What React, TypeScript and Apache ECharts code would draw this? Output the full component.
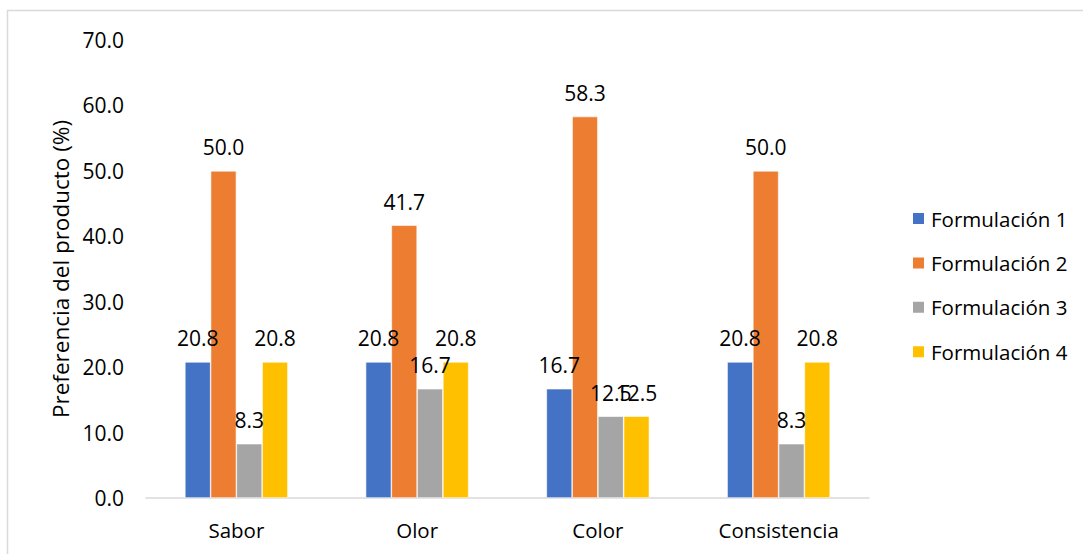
import React, { useEffect, useRef } from "react";
import * as echarts from "echarts";

const categories = ["Sabor", "Olor", "Color", "Consistencia"];
const seriesNames = ["Formulación 1", "Formulación 2", "Formulación 3", "Formulación 4"];
const formulacion1 = [20.8, 20.8, 16.7, 20.8];
const formulacion2 = [50.0, 41.7, 58.3, 50.0];
const formulacion3 = [8.3, 16.7, 12.5, 8.3];
const formulacion4 = [20.8, 20.8, 12.5, 20.8];
const colors = ["#4472C4", "#ED7D31", "#A5A5A5", "#FFC000"];
const yAxisTitle = "Preferencia del producto (%)";

const FONT = "'Open Sans', 'Noto Sans', sans-serif";

export default function App() {
  const ref = useRef<HTMLDivElement>(null);
  useEffect(() => {
    if (!ref.current) return;
    const chart = echarts.init(ref.current, undefined, { renderer: "svg" });
    const allData = [formulacion1, formulacion2, formulacion3, formulacion4];
    chart.setOption({
      animation: false,
      color: colors,
      textStyle: { fontFamily: FONT },
      graphic: [
        {
          type: "rect",
          shape: { x: 7.5, y: 10.5, width: 1200, height: 700 },
          style: { fill: "none", stroke: "#D9D9D9", lineWidth: 1.5 },
          silent: true,
        },
      ],
      grid: { left: 146, right: 214, top: 40, bottom: 56, containLabel: false },
      legend: {
        orient: "vertical",
        left: 906,
        top: 203,
        itemWidth: 13,
        itemHeight: 13,
        itemGap: 23.4,
        icon: "rect",
        data: seriesNames,
        textStyle: { fontFamily: FONT, fontSize: 20.5, lineHeight: 20, color: "#000", padding: [0, 0, 0, 1] },
      },
      xAxis: {
        type: "category",
        data: categories,
        axisLine: { show: true, lineStyle: { color: "#D9D9D9", width: 1.5 } },
        axisTick: { show: false },
        axisLabel: { fontFamily: FONT, fontSize: 20.5, color: "#000", margin: 21 },
      },
      yAxis: {
        type: "value",
        min: 0,
        max: 70,
        interval: 10,
        name: yAxisTitle,
        nameLocation: "middle",
        nameGap: 73,
        nameTextStyle: { fontFamily: FONT, fontSize: 22.5, color: "#000" },
        axisLine: { show: false },
        axisTick: { show: false },
        splitLine: { show: false },
        axisLabel: {
          fontFamily: FONT,
          fontSize: 21,
          color: "#000",
          margin: 22,
          formatter: (v: number) => v.toFixed(1),
        },
      },
      series: seriesNames.map((name, i) => ({
        name,
        type: "bar",
        data: allData[i],
        barGap: "0%",
        barCategoryGap: "43%",
        itemStyle: { color: colors[i], borderColor: "#FFFFFF", borderWidth: 0.6 },
        label: {
          show: true,
          position: "top",
          distance: 13,
          fontFamily: FONT,
          fontSize: 21,
          color: "#000",
          formatter: (p: any) => Number(p.value).toFixed(1),
        },
      })),
    });
    return () => chart.dispose();
  }, []);
  return (
    <div
      ref={ref}
      style={{ position: "absolute", left: 0, top: 0, width: 1083, height: 554 }}
    />
  );
}
